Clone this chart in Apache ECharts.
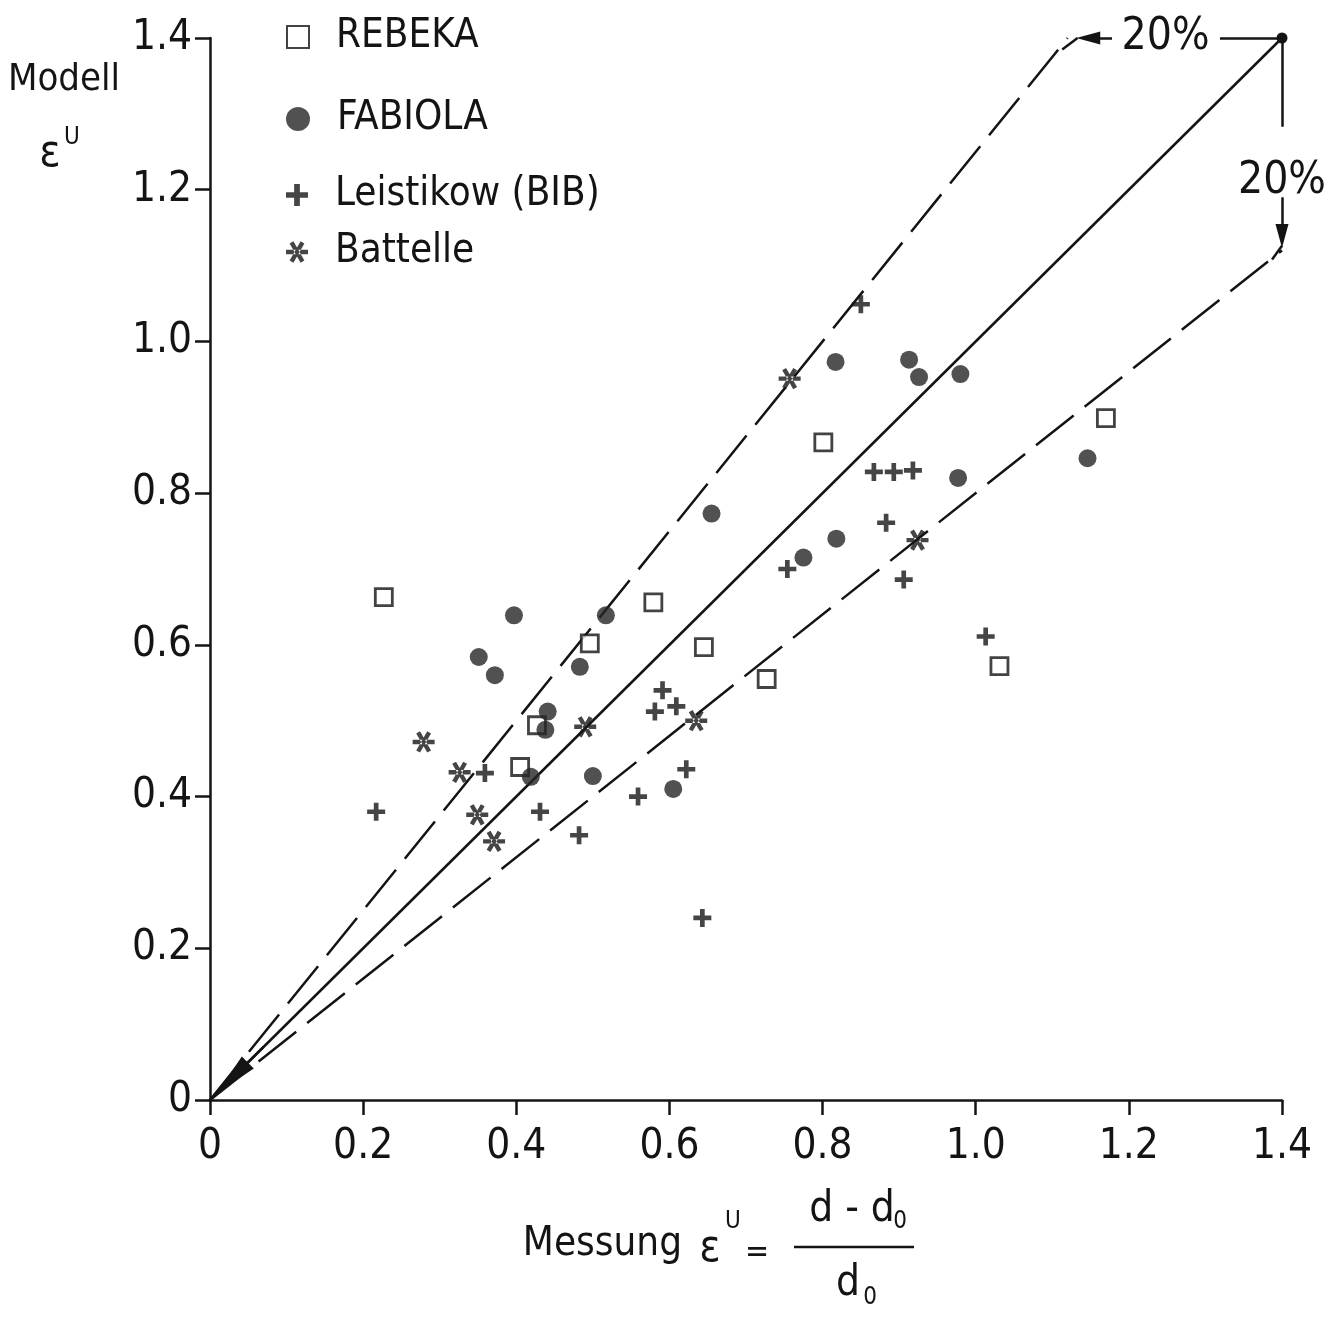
<!DOCTYPE html>
<html><head><meta charset="utf-8">
<script src="https://cdn.jsdelivr.net/npm/echarts@6/dist/echarts.min.js"></script>
<style>html,body{margin:0;padding:0;background:#fff}#c{width:1336px;height:1326px}</style>
</head><body><div id="c"></div>
<script>
// ---- data ----
const xTickLabels = ['0', '0.2', '0.4', '0.6', '0.8', '1.0', '1.2', '1.4'];
const yTickLabels = ['0', '0.2', '0.4', '0.6', '0.8', '1.0', '1.2', '1.4'];

const rebekaX = [0.227, 0.405, 0.427, 0.496, 0.579, 0.645, 0.727, 0.801, 1.031, 1.170];
const rebekaY = [0.663, 0.439, 0.494, 0.602, 0.656, 0.597, 0.555, 0.867, 0.572, 0.899];

const fabiolaX = [0.351, 0.372, 0.397, 0.441, 0.438, 0.483, 0.517, 0.419, 0.500, 0.605, 0.655, 0.817, 0.775, 0.818, 0.913, 0.926, 0.980, 0.977, 1.146];
const fabiolaY = [0.584, 0.560, 0.639, 0.512, 0.488, 0.571, 0.639, 0.426, 0.427, 0.410, 0.773, 0.973, 0.715, 0.740, 0.976, 0.953, 0.957, 0.820, 0.846];

const leistikowX = [0.217, 0.359, 0.431, 0.482, 0.559, 0.622, 0.591, 0.581, 0.609, 0.754, 0.883, 0.906, 0.867, 0.893, 0.918, 0.850, 1.013, 0.643];
const leistikowY = [0.380, 0.431, 0.380, 0.349, 0.400, 0.436, 0.540, 0.512, 0.519, 0.700, 0.761, 0.686, 0.828, 0.828, 0.830, 1.049, 0.611, 0.240];

const battelleX = [0.279, 0.326, 0.349, 0.371, 0.490, 0.635, 0.757, 0.924];
const battelleY = [0.472, 0.432, 0.376, 0.341, 0.492, 0.500, 0.951, 0.738];

// reference lines: identity and +/-20 % bands
const identityLine = [[0, 0], [1.4, 1.4]];
const upperBand = [[0, 0], [1.12, 1.4]];
const lowerBand = [[0, 0], [1.4, 1.12]];
const bandLabel = '20%';

// ---- styling ----
const INK = '#141414';
const FONT = "'DejaVu Sans Condensed', 'Liberation Sans Narrow', 'Liberation Sans', sans-serif";
const zip = (xs, ys) => xs.map((x, i) => [x, ys[i]]);

const plusPath = 'path://M-0.26,-1 L0.26,-1 L0.26,-0.26 L1,-0.26 L1,0.26 L0.26,0.26 L0.26,1 L-0.26,1 L-0.26,0.26 L-1,0.26 L-1,-0.26 L-0.26,-0.26 Z';
const starPath = 'path://M-1,-0.2 L1,-0.2 L1,0.2 L-1,0.2 Z ' +
  'M-0.673,0.766 L-0.327,0.966 L0.673,-0.766 L0.327,-0.966 Z ' +
  'M0.327,0.966 L0.673,0.766 L-0.327,-0.966 L-0.673,-0.766 Z';
const squarePath = 'path://M-1,-1 L1,-1 L1,1 L-1,1 Z';
const arrowPath = 'path://M0,0 L5,30 L-5,30 Z';

const chart = echarts.init(document.getElementById('c'));

const axisCommon = {
  type: 'value', min: 0, max: 1.4, interval: 0.2,
  axisLine: { show: true, onZero: false, lineStyle: { color: INK, width: 2.5 } },
  axisTick: { show: true, length: 15, lineStyle: { color: INK, width: 2.5 } },
  splitLine: { show: false },
};

const lineBase = { type: 'line', symbol: 'none', silent: true, z: 1, animation: false };

// legend rows: [name, top]
const legendRows = [['REBEKA', 16], ['FABIOLA', 98], ['Leistikow (BIB)', 174], ['Battelle', 231]];

const option = {
  animation: false,
  backgroundColor: '#fff',
  grid: { left: 210, right: 54, top: 38, bottom: 226 },
  xAxis: Object.assign({}, axisCommon, {
    axisLabel: { fontFamily: FONT, fontSize: 42, color: INK, margin: 26,
      formatter: (v) => xTickLabels[Math.round(v / 0.2)] }
  }),
  yAxis: Object.assign({}, axisCommon, {
    axisLabel: { fontFamily: FONT, fontSize: 42, color: INK, margin: 18,
      formatter: (v) => yTickLabels[Math.round(v / 0.2)] }
  }),
  legend: legendRows.map(r => ({
    data: [r[0]], top: r[1],
    left: 286, orient: 'vertical', padding: 0,
    itemWidth: r[0] === 'FABIOLA' ? 24 : 22, itemHeight: r[0] === 'FABIOLA' ? 24 : 22,
    selectedMode: false,
    textStyle: { fontFamily: FONT, fontSize: 40, color: INK, lineHeight: 42, padding: [0, 0, 0, 22] }
  })),
  series: [
    Object.assign({}, lineBase, {
      name: 'identity', data: identityLine,
      lineStyle: { color: INK, width: 2.5 },
      markLine: {
        silent: true, animation: false, symbol: ['none', 'none'],
        label: { show: false },
        lineStyle: { color: INK, width: 2.5, type: 'solid' },
        data: [
          [{ coord: [1.4, 1.4] }, { coord: [1.319, 1.4] }],
          [{ coord: [1.4, 1.4] }, { coord: [1.4, 1.283] }],
          [{ coord: [1.178, 1.4] }, { coord: [1.147, 1.4], symbol: arrowPath, symbolSize: [13, 24] }],
          [{ coord: [1.133, 1.4] }, { coord: [1.113, 1.385] }],
          [{ coord: [1.4, 1.190] }, { coord: [1.4, 1.139], symbol: arrowPath, symbolSize: [13, 24] }],
          [{ coord: [1.4, 1.126] }, { coord: [1.387, 1.108] }],
          [{ coord: [0.07, 0.07] }, { coord: [0.029, 0.029], symbol: arrowPath, symbolSize: [17, 44] }],
        ]
      },
      markPoint: {
        silent: true, animation: false, symbol: 'circle', symbolSize: 11,
        itemStyle: { color: INK }, label: { show: false },
        data: [{ coord: [1.4, 1.4] }]
      }
    }),
    Object.assign({}, lineBase, {
      name: 'upper', data: upperBand,
      lineStyle: { color: INK, width: 2.5, type: [48, 14] }
    }),
    Object.assign({}, lineBase, {
      name: 'lower', data: lowerBand,
      lineStyle: { color: INK, width: 2.5, type: [48, 14] }
    }),
    {
      name: 'REBEKA', type: 'scatter', z: 3, data: zip(rebekaX, rebekaY),
      symbol: squarePath, symbolSize: 17, symbolKeepAspect: true,
      itemStyle: { color: '#fff', borderColor: INK, borderWidth: 2.8 }
    },
    {
      name: 'FABIOLA', type: 'scatter', z: 4, data: zip(fabiolaX, fabiolaY),
      symbol: 'circle', symbolSize: 18,
      itemStyle: { color: '#262626' }
    },
    {
      name: 'Leistikow (BIB)', type: 'scatter', z: 4, data: zip(leistikowX, leistikowY),
      symbol: plusPath, symbolSize: 18, symbolKeepAspect: true,
      itemStyle: { color: '#161616' }
    },
    {
      name: 'Battelle', type: 'scatter', z: 4, data: zip(battelleX, battelleY),
      symbol: starPath, symbolSize: 22, symbolKeepAspect: true,
      itemStyle: { color: '#161616' }
    },
  ]
};

chart.setOption(option);

// annotations placed through the chart's own coordinate conversion
const pTop = chart.convertToPixel({ gridIndex: 0 }, [1.248, 1.4]);
const pSide = chart.convertToPixel({ gridIndex: 0 }, [1.4, 1.211]);
const txt = (x, y, text, size, align) => ({
  type: 'text', x: x, y: y, silent: true,
  style: { text: text, fontFamily: FONT, fontSize: size, fill: INK, align: align || 'center', verticalAlign: 'middle' }
});

chart.setOption({
  graphic: [
    txt(pTop[0], pTop[1], bandLabel, 44),
    txt(pSide[0], pSide[1], bandLabel, 44),
    // y-axis title
    txt(64, 80, 'Modell', 38),
    txt(50, 155, 'ε', 44),
    txt(72, 138, 'U', 24),
    // x-axis title
    txt(682, 1245, 'Messung', 40, 'right'),
    txt(710, 1250, 'ε', 44),
    txt(733, 1222, 'U', 24),
    txt(757, 1254, '=', 32),
    txt(852, 1210, 'd - d', 42),
    txt(900, 1222, '0', 24),
    { type: 'line', silent: true, shape: { x1: 794, y1: 1247, x2: 914, y2: 1247 }, style: { stroke: INK, lineWidth: 2.5 } },
    txt(848, 1284, 'd', 42),
    txt(870, 1298, '0', 24),
  ]
});
</script>
</body></html>
